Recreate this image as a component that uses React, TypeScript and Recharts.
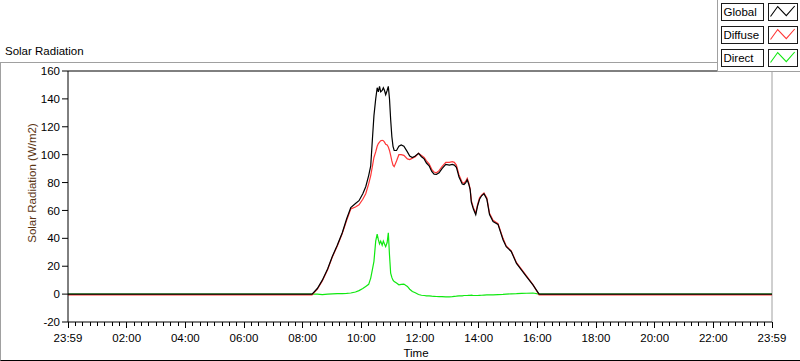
import React from 'react';
import { LineChart, Line, XAxis, YAxis, ReferenceLine, Legend } from 'recharts';

const FONT = '"Liberation Sans", Arial, sans-serif';

// time in hours since 23:59 (day start)
const TIMES = [
  0, 8.32, 8.5, 8.67, 8.85, 9.01, 9.18, 9.35, 9.5, 9.64,
  9.8, 9.92, 10.05, 10.15, 10.25, 10.32, 10.38, 10.43, 10.49, 10.54,
  10.58, 10.62, 10.66, 10.71, 10.75, 10.79, 10.83, 10.88, 10.92, 10.96,
  11.0, 11.04, 11.08, 11.12, 11.2, 11.28, 11.36, 11.45, 11.57, 11.65,
  11.74, 11.84, 11.95, 12.05, 12.14, 12.22, 12.31, 12.4, 12.48, 12.56,
  12.65, 12.75, 12.88, 13.0, 13.1, 13.17, 13.24, 13.33, 13.44, 13.5,
  13.56, 13.61, 13.66, 13.71, 13.75, 13.82, 13.9, 13.96, 14.03, 14.1,
  14.18, 14.28, 14.37, 14.49, 14.66, 14.83, 14.94, 15.11, 15.29, 15.47,
  15.63, 15.85, 16.06, 24,
];

const GLOBAL = [
  0, 0, 4, 10, 18, 27, 35, 44, 54, 62,
  65, 67, 72, 77, 85, 92, 112, 128, 140, 148,
  145, 149, 145, 146, 148, 146, 143, 146, 149, 140,
  125, 113, 106, 103, 103, 106, 107, 106, 102, 99,
  98, 99, 101, 98.5, 97, 94, 92, 88, 86, 85.8,
  87, 90, 93, 92.5, 93, 92.5, 91, 84, 79, 78.6,
  80, 82, 79, 75, 66, 61, 57, 63, 68, 70.5,
  72, 68, 57, 52, 50, 39, 34, 30.6, 22, 17,
  12.6, 6.6, 0, 0,
];

const DIFFUSE = [
  -0.5, -0.5, 3.5, 9.5, 17.5, 26.5, 34.5, 43.5, 53, 61,
  62.5, 64, 68, 72, 79, 85, 92, 98, 102, 106,
  108, 109, 110, 110.3, 110, 109, 107.5, 107, 105.5, 103,
  99.5, 95.5, 92.5, 91.4, 95.5, 100, 100, 99.5, 97, 96.5,
  97.5, 98.5, 101, 99.5, 98, 95.5, 93.5, 89.5, 87.5, 87,
  88.5, 91.5, 94.5, 94.5, 95, 94.5, 92.5, 85.5, 80, 79.5,
  81, 83, 80, 75.5, 67, 62, 58, 64, 69, 71,
  72.5, 69, 58, 53, 50.5, 40, 34.5, 31, 22.5, 17.5,
  13, 6.8, -0.5, -0.5,
];

const DIRECT = [
  0, 0, 0, -0.3, 0, 0.2, 0.3, 0.3, 0.5, 0.8,
  1.5, 2.5, 4, 5.5, 7, 11.5, 18, 23.5, 38, 43,
  39, 36, 38, 35, 38, 36, 34, 37, 44, 28,
  15, 12, 10, 9, 8, 6.7, 7, 7.2, 5.5, 3.5,
  1.9, 1, -0.3, -0.8, -1, -1.2, -1.3, -1.5, -1.6, -1.7,
  -1.8, -1.8, -2, -2, -1.8, -1.6, -1.5, -1.3, -1.2, -1,
  -1, -1, -0.9, -0.9, -0.8, -1, -1, -1, -0.9, -0.8,
  -0.7, -0.6, -0.5, -0.5, -0.3, -0.2, 0, 0.2, 0.3, 0.5,
  0.6, 0.8, 0, 0,
];

const SERIES_NAMES = ['Global', 'Diffuse', 'Direct'];
const SERIES_COLORS = ['#000000', '#ff3535', '#10e810'];

const Y_TICKS = [-20, 0, 20, 40, 60, 80, 100, 120, 140, 160];
const X_MAJOR_TICKS = [0, 2, 4, 6, 8, 10, 12, 14, 16, 18, 20, 22, 24];
const X_TICK_LABELS = ['23:59', '02:00', '04:00', '06:00', '08:00', '10:00', '12:00', '14:00', '16:00', '18:00', '20:00', '22:00', '23:59'];
const X_MINOR_STEP = 0.25;
const X_TICKS = Array.from({ length: Math.round(24 / X_MINOR_STEP) + 1 }, (_, i) => i * X_MINOR_STEP);

const DATA = TIMES.map((t, i) => ({ t, global: GLOBAL[i], diffuse: DIFFUSE[i], direct: DIRECT[i] }));

function TimeTick(props: any) {
  const { x, y, payload } = props;
  const v = payload.value;
  const idx = X_MAJOR_TICKS.findIndex((m) => Math.abs(m - v) < 1e-6);
  const major = idx >= 0;
  return (
    <g>
      <line x1={x} x2={x} y1={y} y2={y + (major ? 6 : 4)} stroke="#000" strokeWidth={1} shapeRendering="crispEdges" />
      {major && (
        <text x={x} y={y + 19.5} textAnchor="middle" fill="#000" fontSize={11.5} fontFamily={FONT}>
          {X_TICK_LABELS[idx]}
        </text>
      )}
    </g>
  );
}

function YTitle(props: any) {
  const vb = props.viewBox || { x: 0, y: 71, width: 68, height: 251 };
  const cx = vb.x + 35.5;
  const cy = vb.y + vb.height / 2 - 13.5;
  return (
    <text x={cx} y={cy} transform={`rotate(-90 ${cx} ${cy})`} textAnchor="middle" fill="#5a3412" fontSize={11.5} fontFamily={FONT}>
      Solar Radiation (W/m2)
    </text>
  );
}

function XTitle(props: any) {
  const vb = props.viewBox || { x: 68, y: 322, width: 704, height: 39 };
  const cx = vb.x + vb.width / 2 - 4;
  const cy = vb.y + 35;
  return (
    <text x={cx} y={cy} textAnchor="middle" fill="#000" fontSize={11.5} fontFamily={FONT}>
      Time
    </text>
  );
}

function LegendBox(props: any) {
  const payload = props.payload || [];
  const items = SERIES_NAMES.map((name, i) => {
    const p = payload.find((e: any) => e.value === name);
    return { name, color: p && p.color ? p.color : SERIES_COLORS[i] };
  });
  return (
    <div
      style={{
        position: 'relative',
        width: 83,
        height: 72,
        background: '#fff',
        borderLeft: '1px solid #a0a0a0',
        borderBottom: '1px solid #a0a0a0',
        boxSizing: 'border-box',
      }}
    >
      {items.map((it, i) => (
        <div key={it.name} style={{ position: 'absolute', left: 3, top: 3 + i * 23, height: 18, display: 'flex' }}>
          <div
            style={{
              width: 43,
              height: 18,
              boxSizing: 'border-box',
              border: '1px solid #1a1a1a',
              background: '#fff',
              fontFamily: FONT,
              fontSize: 11.5,
              lineHeight: '17px',
              paddingLeft: 1.5,
              color: '#000',
              whiteSpace: 'nowrap',
            }}
          >
            {it.name}
          </div>
          <div
            style={{
              marginLeft: 4,
              width: 30,
              height: 18,
              boxSizing: 'border-box',
              border: '1px solid #1a1a1a',
              background: '#fff',
            }}
          >
            <svg width={28} height={16} style={{ display: 'block' }}>
              <polyline points="1.5,12.5 8.7,2.5 17.3,11.7 25.7,2" fill="none" stroke={it.color} strokeWidth={1.1} />
            </svg>
          </div>
        </div>
      ))}
    </div>
  );
}

export default function App() {
  return (
    <div style={{ position: 'absolute', left: 0, top: 0, width: 800, height: 361, background: '#fff', overflow: 'hidden', fontFamily: FONT }}>
      <div
        style={{
          position: 'absolute',
          left: 0,
          top: 62,
          width: 800,
          height: 299,
          boxSizing: 'border-box',
          borderTop: '1px solid #a0a0a0',
          borderLeft: '1px solid #a0a0a0',
          borderBottom: '1px solid #000',
        }}
      />
      <div style={{ position: 'absolute', left: 5, top: 45, fontFamily: FONT, fontSize: 11.5, lineHeight: '12px', color: '#000', whiteSpace: 'nowrap' }}>
        Solar Radiation
      </div>
      <div style={{ position: 'absolute', left: 0, top: 0 }}>
        <LineChart width={800} height={361} data={DATA} margin={{ top: 71, right: 28, bottom: 0, left: 0 }}>
          <XAxis
            dataKey="t"
            type="number"
            domain={[0, 24]}
            ticks={X_TICKS}
            interval={0}
            tickLine={false}
            tickSize={0}
            tickMargin={0}
            axisLine={{ stroke: '#000' }}
            tick={<TimeTick />}
            height={39}
            allowDataOverflow
            label={(p: any) => <XTitle {...p} />}
          />
          <YAxis
            type="number"
            domain={[-20, 160]}
            ticks={Y_TICKS}
            interval={0}
            width={68}
            tickSize={6}
            tickMargin={2}
            axisLine={{ stroke: '#000' }}
            tickLine={{ stroke: '#000' }}
            tick={{ fill: '#000', fontSize: 11.5, fontFamily: FONT }}
            allowDataOverflow
            label={(p: any) => <YTitle {...p} />}
          />
          <ReferenceLine y={160} stroke="#000" strokeWidth={1} />
          <ReferenceLine x={24} stroke="#a0a0a0" strokeWidth={1} />
          <Line type="linear" dataKey="direct" name={SERIES_NAMES[2]} stroke={SERIES_COLORS[2]} strokeWidth={1.2} dot={false} isAnimationActive={false} />
          <Line type="linear" dataKey="diffuse" name={SERIES_NAMES[1]} stroke={SERIES_COLORS[1]} strokeWidth={1.2} dot={false} isAnimationActive={false} />
          <Line type="linear" dataKey="global" name={SERIES_NAMES[0]} stroke={SERIES_COLORS[0]} strokeWidth={1.2} dot={false} isAnimationActive={false} />
          <Legend
            layout="horizontal"
            verticalAlign="middle"
            align="center"
            content={<LegendBox />}
            wrapperStyle={{ position: 'absolute', left: 717, top: 0, width: 83, height: 72, margin: 0, padding: 0 }}
          />
        </LineChart>
      </div>
    </div>
  );
}
